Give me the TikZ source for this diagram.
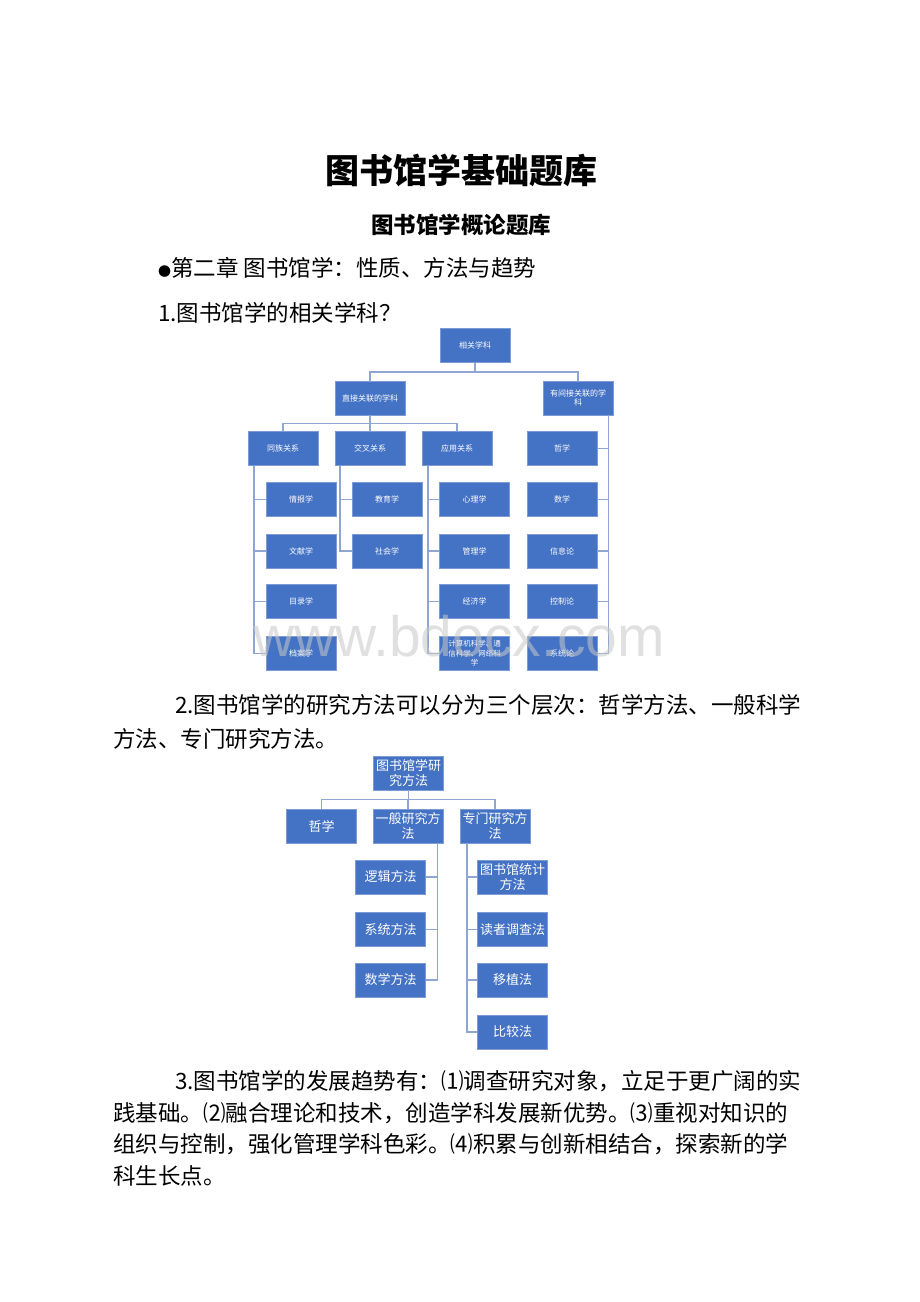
\documentclass[tikz,border=0pt]{standalone}
\usepackage{fontspec}
\setmainfont{Noto Sans CJK SC}
\newfontfamily\markfont{Liberation Sans}
\definecolor{boxblue}{RGB}{68,114,196}
\definecolor{boxedge}{RGB}{125,155,212}
\definecolor{linkblue}{RGB}{143,166,210}
\definecolor{markgray}{RGB}{200,200,200}
\tikzset{
  smallbox/.style={draw=boxedge, line width=0.6pt, fill=boxblue, text=white,
    minimum width=70pt, minimum height=34pt, inner sep=1pt, align=center,
    font=\fontsize{8}{9}\selectfont},
  bigbox/.style={smallbox, font=\fontsize{13}{15}\selectfont},
  link/.style={draw=linkblue, line width=1.6pt},
  bodyline/.style={anchor=west, inner sep=0pt, font=\fontsize{22.5}{26}\selectfont},
}

\begin{document}
\begin{tikzpicture}[x=1pt,y=-1pt]
  \fill[white] (0,0) rectangle (920,1302);
  \useasboundingbox (0,0) rectangle (920,1302);

  \node[font=\fontsize{34}{38}\selectfont\bfseries] (title) at (461,170) {图书馆学基础题库};
  \node[font=\fontsize{22.5}{26}\selectfont\bfseries] (subtitle) at (461,225) {图书馆学概论题库};
  \node[bodyline] (chapter) at (158,268) {{\fontsize{13}{13}\selectfont ●}第二章 图书馆学：性质、方法与趋势};
  \node[bodyline] (q1) at (158,313) {1.图书馆学的相关学科？};

  \node[smallbox] (xg) at (475,345.5) {相关学科};
  \node[smallbox] (zj) at (370,398) {直接关联的学科};
  \node[smallbox] (jj) at (578,398) {有间接关联的学\\科};
  \node[smallbox] (tz) at (283,448.5) {同族关系};
  \node[smallbox] (jc) at (370,448.5) {交叉关系};
  \node[smallbox] (yy) at (457,448.5) {应用关系};
  \node[smallbox] (zx) at (562,448.5) {哲学};
  \node[smallbox] (tz1) at (301,499.5) {情报学};
  \node[smallbox] (tz2) at (301,551) {文献学};
  \node[smallbox] (tz3) at (301,601.5) {目录学};
  \node[smallbox] (tz4) at (301,653.5) {档案学};
  \node[smallbox] (jc1) at (387,499.5) {教育学};
  \node[smallbox] (jc2) at (387,551) {社会学};
  \node[smallbox] (yy1) at (474.5,499.5) {心理学};
  \node[smallbox] (yy2) at (474.5,551) {管理学};
  \node[smallbox] (yy3) at (474.5,601.5) {经济学};
  \node[smallbox, font=\fontsize{7.5}{9.5}\selectfont] (yy4) at (474.5,653.5) {计算机科学、通\\信科学、网络科\\学};
  \node[smallbox] (jj1) at (562,499.5) {数学};
  \node[smallbox] (jj2) at (562,551) {信息论};
  \node[smallbox] (jj3) at (562,601.5) {控制论};
  \node[smallbox] (jj4) at (562,653.5) {系统论};

  \draw[link] (xg.south) -- ++(0,9) -| (zj.north);
  \draw[link] (xg.south) -- ++(0,9) -| (jj.north);
  \draw[link] (zj.south) -- ++(0,8) -| (tz.north);
  \draw[link] (zj.south) -- (jc.north);
  \draw[link] (zj.south) -- ++(0,8) -| (yy.north);
  \draw[link] ([xshift=6pt]tz.south west) |- (tz1.west);
  \draw[link] ([xshift=6pt]tz.south west) |- (tz2.west);
  \draw[link] ([xshift=6pt]tz.south west) |- (tz3.west);
  \draw[link] ([xshift=6pt]tz.south west) |- (tz4.west);
  \draw[link] ([xshift=5pt]jc.south west) |- (jc1.west);
  \draw[link] ([xshift=5pt]jc.south west) |- (jc2.west);
  \draw[link] ([xshift=6pt]yy.south west) |- (yy1.west);
  \draw[link] ([xshift=6pt]yy.south west) |- (yy2.west);
  \draw[link] ([xshift=6pt]yy.south west) |- (yy3.west);
  \draw[link] ([xshift=6pt]yy.south west) |- (yy4.west);
  \draw[link] ([xshift=-5pt]jj.south east) |- (zx.east);
  \draw[link] ([xshift=-5pt]jj.south east) |- (jj1.east);
  \draw[link] ([xshift=-5pt]jj.south east) |- (jj2.east);
  \draw[link] ([xshift=-5pt]jj.south east) |- (jj3.east);
  \draw[link] ([xshift=-5pt]jj.south east) |- (jj4.east);

  \node[bodyline] (q2a) at (175,705) {2.图书馆学的研究方法可以分为三个层次：哲学方法、一般科学};
  \node[bodyline] (q2b) at (113,739) {方法、专门研究方法。};

  \node[bigbox] (ff) at (408.5,773) {图书馆学研\\究方法};
  \node[bigbox] (zx2) at (321.5,826) {哲学};
  \node[bigbox] (yb) at (408,826) {一般研究方\\法};
  \node[bigbox] (zm) at (495,826) {专门研究方\\法};
  \node[bigbox] (yb1) at (390.5,877) {逻辑方法};
  \node[bigbox] (yb2) at (390.5,929.5) {系统方法};
  \node[bigbox] (yb3) at (390.5,980) {数学方法};
  \node[bigbox] (zm1) at (512.5,877) {图书馆统计\\方法};
  \node[bigbox] (zm2) at (512.5,929.5) {读者调查法};
  \node[bigbox] (zm3) at (512.5,980) {移植法};
  \node[bigbox] (zm4) at (512.5,1032) {比较法};

  \draw[link] (ff.south) -- ++(0,9) -| (zx2.north);
  \draw[link] (ff.south) -- ++(0,9) -| (yb.north);
  \draw[link] (ff.south) -- ++(0,9) -| (zm.north);
  \draw[link] ([xshift=-6pt]yb.south east) |- (yb1.east);
  \draw[link] ([xshift=-6pt]yb.south east) |- (yb2.east);
  \draw[link] ([xshift=-6pt]yb.south east) |- (yb3.east);
  \draw[link] ([xshift=7pt]zm.south west) |- (zm1.west);
  \draw[link] ([xshift=7pt]zm.south west) |- (zm2.west);
  \draw[link] ([xshift=7pt]zm.south west) |- (zm3.west);
  \draw[link] ([xshift=7pt]zm.south west) |- (zm4.west);

  \node[bodyline] (q3a) at (175,1081) {3.图书馆学的发展趋势有：⑴调查研究对象，立足于更广阔的实};
  \node[bodyline] (q3b) at (113,1113) {践基础。⑵融合理论和技术，创造学科发展新优势。⑶重视对知识的};
  \node[bodyline] (q3c) at (113,1144) {组织与控制，强化管理学科色彩。⑷积累与创新相结合，探索新的学};
  \node[bodyline] (q3d) at (113,1176) {科生长点。};

  \node[text=markgray, text opacity=0.55, font=\markfont\fontsize{57}{60}\selectfont] (mark) at (459,636) {www.bdocx.com};
\end{tikzpicture}
\end{document}
